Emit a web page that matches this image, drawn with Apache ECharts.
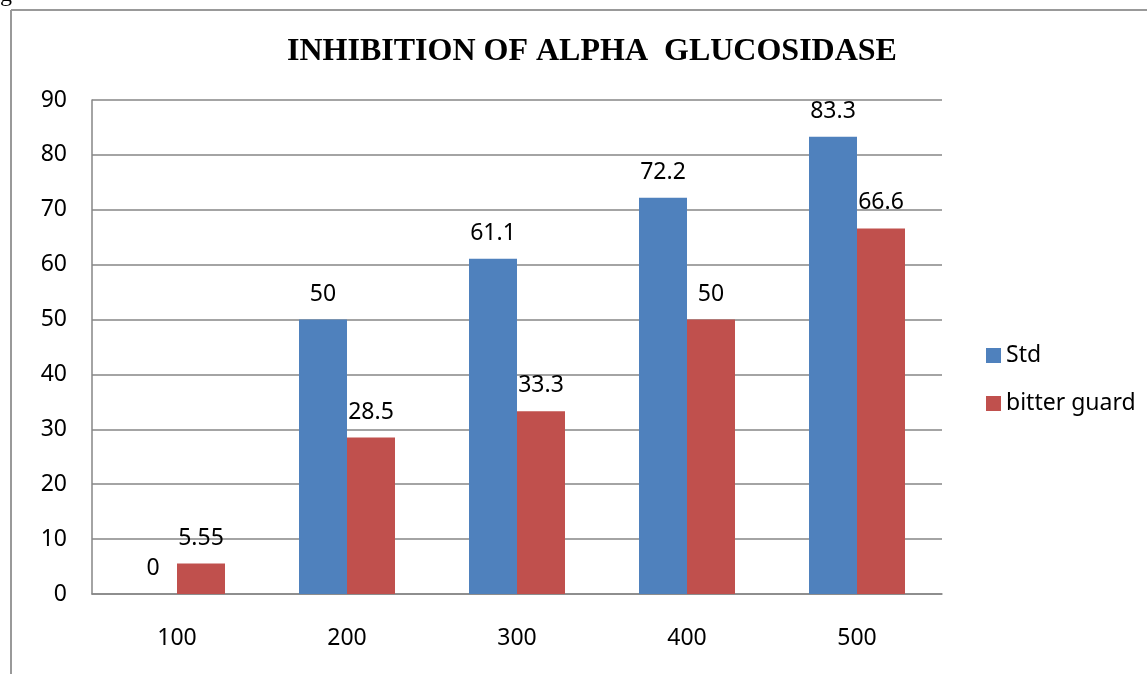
<!DOCTYPE html>
<html><head><meta charset="utf-8">
<script src="https://cdn.jsdelivr.net/npm/echarts@6/dist/echarts.min.js"></script>
<style>html,body{margin:0;padding:0;background:#fff}#c{width:1147px;height:674px}</style>
</head><body><div id="c"></div>
<script>
const categories = ['100','200','300','400','500'];
const stdValues = [0, 50, 61.1, 72.2, 83.3];
const bitterValues = [5.55, 28.5, 33.3, 50, 66.6];
const seriesNames = ['Std', 'bitter guard'];
const titleText = 'INHIBITION OF ALPHA  GLUCOSIDASE';

const chart = echarts.init(document.getElementById('c'), null, {renderer:'canvas'});
const font = 'Noto Sans';
const labelCfg = {show:true, position:'top', distance:14, color:'#000', fontFamily:font, fontSize:23};
chart.setOption({
  animation:false,
  title:{text:titleText, left:587, top:31, textAlign:'center',
    textStyle:{fontFamily:'Liberation Serif', fontWeight:'bold', fontSize:32, color:'#000'}},
  legend:{orient:'vertical', left:981, top:339, itemWidth:15, itemHeight:15, itemGap:25,
    icon:'rect', textStyle:{fontFamily:font, fontSize:23, color:'#000'},
    data:seriesNames},
  grid:{left:92, right:205, top:100, bottom:80},
  xAxis:{type:'category', data:categories,
    axisLine:{lineStyle:{color:'#868686', width:1.5}}, axisTick:{show:false},
    axisLabel:{margin:33, fontFamily:font, fontSize:23, color:'#000'}},
  yAxis:{type:'value', min:0, max:90, interval:10,
    axisLine:{show:true, lineStyle:{color:'#868686', width:1.5}}, axisTick:{show:false},
    splitLine:{lineStyle:{color:'#868686', width:1.5}},
    axisLabel:{margin:25, fontFamily:font, fontSize:23, color:'#000'}},
  series:[
    {name:seriesNames[0], type:'bar', data:stdValues, barWidth:48, barGap:'0%',
      itemStyle:{color:'#4F81BD'}, label:labelCfg},
    {name:seriesNames[1], type:'bar', data:bitterValues, barWidth:48,
      itemStyle:{color:'#C0504D'}, label:labelCfg}
  ],
  graphic:[
    {type:'line', shape:{x1:11, y1:10, x2:1147, y2:10}, style:{stroke:'#999', lineWidth:2}},
    {type:'line', shape:{x1:11, y1:10, x2:11, y2:674}, style:{stroke:'#999', lineWidth:2}},
    {type:'text', left:0, top:-17, style:{text:'g', fontSize:24, fontFamily:'Liberation Serif', fill:'#000'}}
  ]
});
</script></body></html>
